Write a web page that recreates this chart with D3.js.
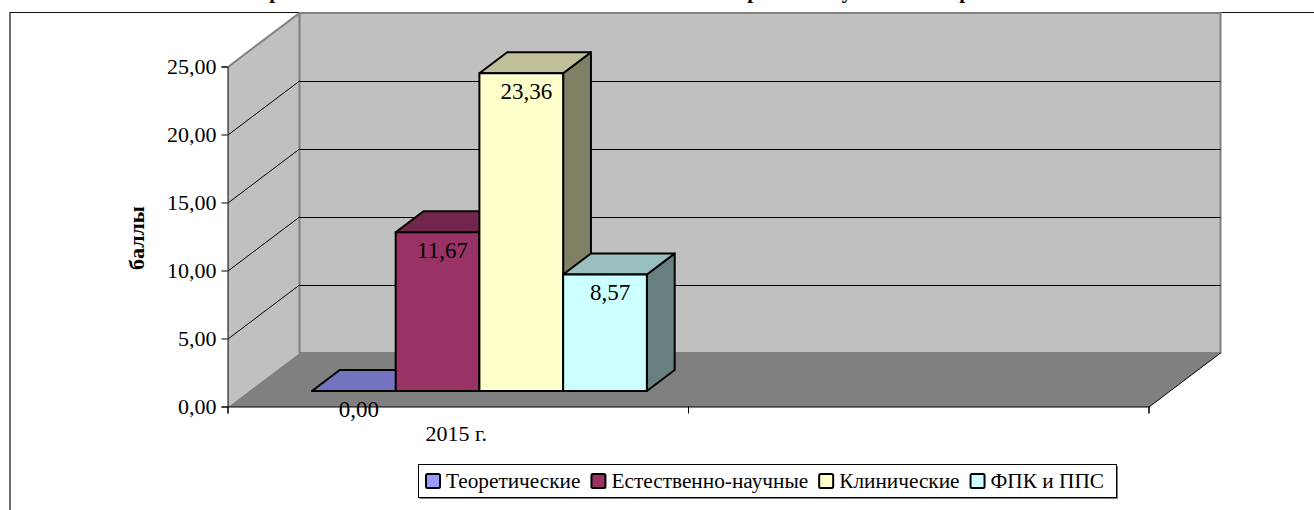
<!DOCTYPE html>
<html>
<head>
<meta charset="utf-8">
<script src="https://cdn.jsdelivr.net/npm/d3@7"></script>
<style>
  html, body { margin: 0; padding: 0; background: #fff; overflow: hidden; }
  text { font-family: "Liberation Serif", serif; fill: #000; }
</style>
</head>
<body>
<div id="chart"></div>
<script>
const categories = ["2015 г.", ""];
const seriesNames = ["Теоретические", "Естественно-научные", "Клинические", "ФПК и ППС"];
const seriesValues = [0, 11.67, 23.36, 8.57];
const seriesColors = ["#9999ff", "#993366", "#ffffcc", "#ccffff"];
const yTicks = [0, 5, 10, 15, 20, 25];
const yTitle = "баллы";
// the title is cut off by the top of the picture, only these descenders show
const titleGlyphs = ["р", "р", "у", "р"];
const titleGlyphX = [275, 753, 847, 965];

const width = 1314;
const height = 510;
const plot = { left: 228, right: 1149, top: 67, bottom: 407 };
const depth = { dx: 71.5, dy: 54, barFront: 0.296, barBack: 0.685 };

const svg = d3.select('#chart')
  .append('svg')
  .attr('width', width)
  .attr('height', height)
  .style('display', 'block');

const y = d3.scaleLinear().domain([0, 25]).range([plot.bottom, plot.top]);
const x = d3.scaleBand().domain(categories).range([plot.left, plot.right]);
const xSeries = d3.scaleBand()
  .domain(seriesNames)
  .range([0, x.bandwidth()])
  .paddingInner(0)
  .paddingOuter(0.75);

// x on the front plane, value, depth 0..1 -> screen point
function project(px, v, t) {
  return [px + depth.dx * t, y(v) - depth.dy * t];
}
const poly = pts => 'M' + pts.map(p => p.join(',')).join('L') + 'Z';
const shade = (c, k) => {
  const r = d3.rgb(c);
  return d3.rgb(r.r * k, r.g * k, r.b * k).formatHex();
};

// chart area border
svg.append('path')
  .attr('d', `M10,${height}V12.5H${width}`)
  .attr('fill', 'none')
  .attr('stroke', '#111')
  .attr('stroke-width', 1.2);

// title remains
svg.selectAll('.title-glyph')
  .data(titleGlyphs)
  .join('text')
  .attr('class', 'title-glyph')
  .attr('x', (d, i) => titleGlyphX[i])
  .attr('y', -2)
  .attr('text-anchor', 'middle')
  .style('font-size', '21px')
  .style('font-weight', 'bold')
  .text(d => d);

// walls and floor
const x0 = plot.left, x1 = plot.right;
svg.append('path')
  .attr('d', poly([project(x0, 0, 0), project(x0, 25, 0), project(x0, 25, 1), project(x0, 0, 1)]))
  .attr('fill', '#c0c0c0');
svg.append('path')
  .attr('d', poly([project(x0, 0, 1), project(x0, 25, 1), project(x1, 25, 1), project(x1, 0, 1)]))
  .attr('fill', '#c0c0c0');
svg.append('path')
  .attr('d', poly([project(x0, 0, 0), project(x0, 0, 1), project(x1, 0, 1), project(x1, 0, 0)]))
  .attr('fill', '#808080');

// gray wall edges
svg.append('path')
  .attr('d', 'M' + [project(x0, 25, 0), project(x0, 25, 1), project(x1, 25, 1), project(x1, 0, 1), project(x0, 0, 1)].map(p => p.join(',')).join('L'))
  .attr('fill', 'none')
  .attr('stroke', '#808080')
  .attr('stroke-width', 2);
svg.append('path')
  .attr('d', 'M' + [project(x0, 25, 1), project(x0, 0, 1)].map(p => p.join(',')).join('L'))
  .attr('fill', 'none')
  .attr('stroke', '#808080')
  .attr('stroke-width', 2);

// gridlines, the back wall part kept on a pixel row
yTicks.filter(d => d > 0 && d < 25).forEach(d => {
  const a = project(x0, d, 0), b = project(x0, d, 1), c = project(x1, d, 1);
  svg.append('path')
    .attr('d', `M${a}L${b}`)
    .attr('fill', 'none')
    .attr('stroke', '#000')
    .attr('stroke-width', 1);
  svg.append('path')
    .attr('d', `M${b[0]},${b[1] + 0.5}L${c[0]},${c[1] + 0.5}`)
    .attr('fill', 'none')
    .attr('stroke', '#000')
    .attr('stroke-width', 1);
});

// floor right edge
svg.append('path')
  .attr('d', `M${project(x1, 0, 0)}L${project(x1, 0, 1)}`)
  .attr('stroke', '#000')
  .attr('stroke-width', 1);

// bars
seriesNames.forEach((name, i) => {
  const v = seriesValues[i];
  const left = x(categories[0]) + xSeries(name);
  const right = left + xSeries.bandwidth();
  const g = svg.append('g')
    .attr('stroke', '#000')
    .attr('stroke-width', 2)
    .attr('stroke-linejoin', 'round');
  g.append('path')
    .attr('fill', shade(seriesColors[i], 0.5))
    .attr('d', poly([project(right, 0, depth.barFront), project(right, v, depth.barFront), project(right, v, depth.barBack), project(right, 0, depth.barBack)]));
  g.append('path')
    .attr('fill', shade(seriesColors[i], 0.75))
    .attr('d', poly([project(left, v, depth.barFront), project(left, v, depth.barBack), project(right, v, depth.barBack), project(right, v, depth.barFront)]));
  g.append('path')
    .attr('fill', seriesColors[i])
    .attr('d', poly([project(left, 0, depth.barFront), project(left, v, depth.barFront), project(right, v, depth.barFront), project(right, 0, depth.barFront)]));
});

// axes
const yAxis = d3.axisLeft(y)
  .tickValues(yTicks)
  .tickSize(6)
  .tickPadding(5)
  .tickFormat(d => d3.format('.2f')(d).replace('.', ','));
svg.append('g')
  .attr('transform', `translate(${plot.left - 0.5},-0.5)`)
  .call(yAxis)
  .call(g => g.selectAll('.domain').attr('stroke', '#000'))
  .call(g => g.selectAll('text').style('font-size', '22px').style('font-family', '"Liberation Serif", serif').attr('dy', '0.3em'));

const xTickScale = d3.scaleLinear().domain([0, 2]).range([plot.left, plot.right]);
const xAxis = d3.axisBottom(xTickScale)
  .tickValues([0, 1, 2])
  .tickSize(7)
  .tickFormat('');
svg.append('g')
  .attr('transform', `translate(-0.5,${plot.bottom - 0.5})`)
  .call(xAxis);

svg.append('text')
  .attr('x', x(categories[0]) + x.bandwidth() / 2 - 2)
  .attr('y', 441)
  .attr('text-anchor', 'middle')
  .style('font-size', '22px')
  .text(categories[0]);

// data labels
seriesNames.forEach((name, i) => {
  const v = seriesValues[i];
  const p = project(x(categories[0]) + xSeries(name) + xSeries.bandwidth() / 2, v, depth.barFront);
  svg.append('text')
    .attr('x', p[0] + 5)
    .attr('y', p[1] + 19)
    .attr('dy', '0.3em')
    .attr('text-anchor', 'middle')
    .style('font-size', '23px')
    .text(d3.format('.2f')(v).replace('.', ','));
});

// y title
svg.append('text')
  .attr('transform', 'translate(144,238) rotate(-90)')
  .attr('text-anchor', 'middle')
  .style('font-size', '22px')
  .style('font-weight', 'bold')
  .text(yTitle);

// legend
const legend = svg.append('g');
legend.append('rect')
  .attr('x', 420).attr('y', 466).attr('width', 698).attr('height', 33)
  .attr('fill', '#808080');
legend.append('rect')
  .attr('x', 418.5).attr('y', 464.5).attr('width', 698).attr('height', 33)
  .attr('fill', '#fff')
  .attr('stroke', '#000')
  .attr('stroke-width', 1);

let cursor = 426;
seriesNames.forEach((name, i) => {
  legend.append('rect')
    .attr('x', cursor).attr('y', 474).attr('width', 14).attr('height', 14)
    .attr('rx', 1.5)
    .attr('fill', seriesColors[i])
    .attr('stroke', '#000')
    .attr('stroke-width', 2);
  const t = legend.append('text')
    .attr('x', cursor + 20)
    .attr('y', 487.5)
    .style('font-size', '21.3px')
    .text(name);
  cursor += 20 + t.node().getComputedTextLength() + 11;
});
</script>
</body>
</html>
